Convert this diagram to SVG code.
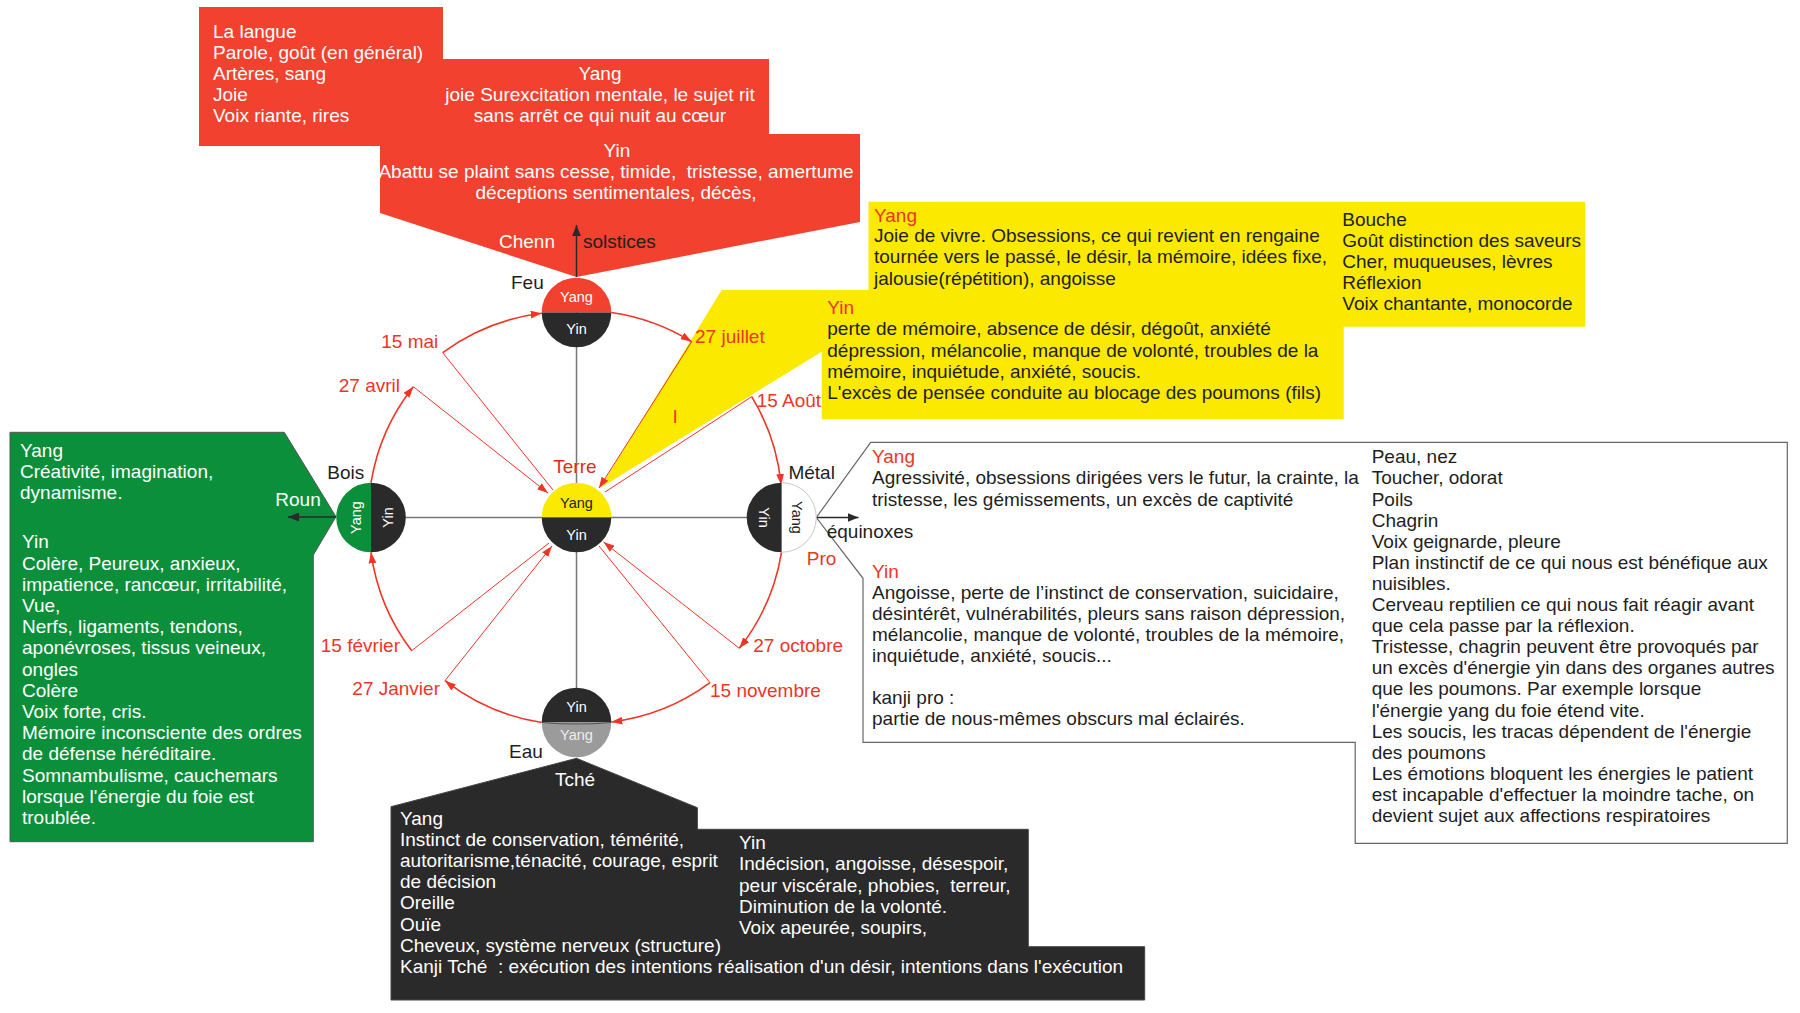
<svg xmlns="http://www.w3.org/2000/svg" width="1800" height="1013" viewBox="0 0 1800 1013">
<style>
.t{font-family:'Liberation Sans',Arial,sans-serif;font-size:19px}
.c{font-family:'Liberation Sans',Arial,sans-serif;font-size:14.5px;text-anchor:middle}
.w{fill:#ffffff}
.k{fill:#1e1e1e}
.r{fill:#ee3526}
.m{text-anchor:middle}
.e{text-anchor:end}
.arc{fill:none;stroke:#ee3526;stroke-width:1.6}
.thin{fill:none;stroke:#ee3526;stroke-width:1}
.axis{stroke:#777;stroke-width:1.5}
</style>
<defs>
<marker id="ra" viewBox="0 0 10 7" refX="10" refY="3.5" markerWidth="11" markerHeight="8" markerUnits="userSpaceOnUse" orient="auto"><path d="M0,0 L10,3.5 L0,7 z" fill="#ee3526"/></marker>
<marker id="ka" viewBox="0 0 10 8" refX="10" refY="4" markerWidth="11" markerHeight="9" markerUnits="userSpaceOnUse" orient="auto"><path d="M0,0 L10,4 L0,8 z" fill="#2a2a2a"/></marker>
</defs>
<rect width="1800" height="1013" fill="#fff"/>

<g id="feu-box">
<path d="M199,7 H443 V59 H769 V134 H860 V222 L576.5,277 L380,213 V146 H199 Z" fill="#f2412e"/>
<text class="t w"><tspan x="213" y="37.5">La langue</tspan><tspan x="213" y="58.6">Parole, goût (en général)</tspan><tspan x="213" y="79.7">Artères, sang</tspan><tspan x="213" y="100.8">Joie</tspan><tspan x="213" y="121.9">Voix riante, rires</tspan></text>
<text class="t w m"><tspan x="600" y="79.5">Yang</tspan><tspan x="600" y="100.6">joie Surexcitation mentale, le sujet rit</tspan><tspan x="600" y="121.7">sans arrêt ce qui nuit au cœur</tspan></text>
<text class="t w m" xml:space="preserve"><tspan x="617" y="157">Yin</tspan><tspan x="616" y="178.1">Abattu se plaint sans cesse, timide,  tristesse, amertume</tspan><tspan x="616" y="199.2">déceptions sentimentales, décès,</tspan></text>
<text class="t w" x="499" y="248">Chenn</text>
<text class="t k" x="583" y="248">solstices</text>
</g>

<g id="terre-box">
<path d="M868.5,201.7 H1585.3 V326.7 H1343.7 V419.3 H821.7 V351.7 L600,488 L721.7,290 H868.5 Z" fill="#fbe900"/>
<text class="t r" x="874" y="221.7">Yang</text>
<text class="t k"><tspan x="874" y="242.3">Joie de vivre. Obsessions, ce qui revient en rengaine</tspan><tspan x="874" y="263.4">tournée vers le passé, le désir, la mémoire, idées fixe,</tspan><tspan x="874" y="284.5">jalousie(répétition), angoisse</tspan></text>
<text class="t k"><tspan x="1342.3" y="226">Bouche</tspan><tspan x="1342.3" y="247.1">Goût distinction des saveurs</tspan><tspan x="1342.3" y="268.2">Cher, muqueuses, lèvres</tspan><tspan x="1342.3" y="289.3">Réflexion</tspan><tspan x="1342.3" y="310.4">Voix chantante, monocorde</tspan></text>
<text class="t r" x="827.3" y="314.3">Yin</text>
<text class="t k"><tspan x="827.3" y="335.4">perte de mémoire, absence de désir, dégoût, anxiété</tspan><tspan x="827.3" y="356.5">dépression, mélancolie, manque de volonté, troubles de la</tspan><tspan x="827.3" y="377.6">mémoire, inquiétude, anxiété, soucis.</tspan><tspan x="827.3" y="398.7">L'excès de pensée conduite au blocage des poumons (fils)</tspan></text>
<text class="t r" x="673" y="422.7">l</text>
</g>

<g id="bois-box">
<path d="M10,432.3 H284.3 L336,516.7 L313.3,555 V841.7 H10 Z" fill="#0b8f3a" stroke="#555" stroke-width="1"/>
<text class="t w"><tspan x="20" y="456.7">Yang</tspan><tspan x="20" y="477.9">Créativité, imagination,</tspan><tspan x="20" y="499.1">dynamisme.</tspan></text>
<text class="t w"><tspan x="22" y="548.3">Yin</tspan><tspan x="22" y="569.5">Colère, Peureux, anxieux,</tspan><tspan x="22" y="590.7">impatience, rancœur, irritabilité,</tspan><tspan x="22" y="611.9">Vue,</tspan><tspan x="22" y="633.1">Nerfs, ligaments, tendons,</tspan><tspan x="22" y="654.3">aponévroses, tissus veineux,</tspan><tspan x="22" y="675.5">ongles</tspan><tspan x="22" y="696.7">Colère</tspan><tspan x="22" y="717.9">Voix forte, cris.</tspan><tspan x="22" y="739.1">Mémoire inconsciente des ordres</tspan><tspan x="22" y="760.3">de défense héréditaire.</tspan><tspan x="22" y="781.5">Somnambulisme, cauchemars</tspan><tspan x="22" y="802.7">lorsque l'énergie du foie est</tspan><tspan x="22" y="823.9">troublée.</tspan></text>
<text class="t w" x="275.3" y="506">Roun</text>
</g>

<g id="eau-box">
<path d="M391,806.7 L576.5,758.3 L697.4,807.7 V829.3 H1028.3 V946.7 H1144.7 V1000 H391 Z" fill="#2a2a2a" stroke="#444" stroke-width="1"/>
<text class="t w" x="555" y="785.7">Tché</text>
<text class="t w"><tspan x="400" y="825">Yang</tspan><tspan x="400" y="846.1">Instinct de conservation, témérité,</tspan><tspan x="400" y="867.2">autoritarisme,ténacité, courage, esprit</tspan><tspan x="400" y="888.3">de décision</tspan><tspan x="400" y="909.4">Oreille</tspan><tspan x="400" y="930.5">Ouïe</tspan><tspan x="400" y="951.6">Cheveux, système nerveux (structure)</tspan></text>
<text class="t w" x="400" y="972.7" xml:space="preserve">Kanji Tché  : exécution des intentions réalisation d'un désir, intentions dans l'exécution</text>
<text class="t w" xml:space="preserve"><tspan x="739" y="849.3">Yin</tspan><tspan x="739" y="870.4">Indécision, angoisse, désespoir,</tspan><tspan x="739" y="891.5">peur viscérale, phobies,  terreur,</tspan><tspan x="739" y="912.6">Diminution de la volonté.</tspan><tspan x="739" y="933.7">Voix apeurée, soupirs,</tspan></text>
</g>

<g id="metal-box">
<path d="M870.7,442.3 H1787.3 V843.3 H1355.2 V742.3 H863 V578.3 L816.3,517.5 Z" fill="#fff" stroke="#666" stroke-width="1.2"/>
<text class="t r" x="872" y="463.3">Yang</text>
<text class="t k"><tspan x="872" y="484.4">Agressivité, obsessions dirigées vers le futur, la crainte, la</tspan><tspan x="872" y="505.5">tristesse, les gémissements, un excès de captivité</tspan></text>
<text class="t r" x="872" y="577.7">Yin</text>
<text class="t k"><tspan x="872" y="598.8">Angoisse, perte de l’instinct de conservation, suicidaire,</tspan><tspan x="872" y="619.9">désintérêt, vulnérabilités, pleurs sans raison dépression,</tspan><tspan x="872" y="641">mélancolie, manque de volonté, troubles de la mémoire,</tspan><tspan x="872" y="662.1">inquiétude, anxiété, soucis...</tspan><tspan x="872" y="704.3">kanji pro :</tspan><tspan x="872" y="725.4">partie de nous-mêmes obscurs mal éclairés.</tspan></text>
<text class="t k"><tspan x="1371.7" y="463.3">Peau, nez</tspan><tspan x="1371.7" y="484.4">Toucher, odorat</tspan><tspan x="1371.7" y="505.5">Poils</tspan><tspan x="1371.7" y="526.6">Chagrin</tspan><tspan x="1371.7" y="547.7">Voix geignarde, pleure</tspan><tspan x="1371.7" y="568.8">Plan instinctif de ce qui nous est bénéfique aux</tspan><tspan x="1371.7" y="589.9">nuisibles.</tspan><tspan x="1371.7" y="611">Cerveau reptilien ce qui nous fait réagir avant</tspan><tspan x="1371.7" y="632.1">que cela passe par la réflexion.</tspan><tspan x="1371.7" y="653.2">Tristesse, chagrin peuvent être provoqués par</tspan><tspan x="1371.7" y="674.3">un excès d'énergie yin dans des organes autres</tspan><tspan x="1371.7" y="695.4">que les poumons. Par exemple lorsque</tspan><tspan x="1371.7" y="716.5">l'énergie yang du foie étend vite.</tspan><tspan x="1371.7" y="737.6">Les soucis, les tracas dépendent de l'énergie</tspan><tspan x="1371.7" y="758.7">des poumons</tspan><tspan x="1371.7" y="779.8">Les émotions bloquent les énergies le patient</tspan><tspan x="1371.7" y="800.9">est incapable d'effectuer la moindre tache, on</tspan><tspan x="1371.7" y="822">devient sujet aux affections respiratoires</tspan></text>
<text class="t k" x="826.7" y="538.3">équinoxes</text>
<text class="t r" x="806.8" y="565">Pro</text>
</g>

<g id="connectors">
<line class="axis" x1="371" y1="517.5" x2="781.5" y2="517.5"/>
<line class="axis" x1="576.5" y1="312.5" x2="576.5" y2="722.5"/>
<line x1="576.5" y1="277" x2="576.5" y2="225" stroke="#2a2a2a" stroke-width="1.5" marker-end="url(#ka)"/>
<line x1="336" y1="517" x2="288" y2="517" stroke="#2a2a2a" stroke-width="1.5" marker-end="url(#ka)"/>
<line x1="816.3" y1="517.5" x2="858.5" y2="517.5" stroke="#2a2a2a" stroke-width="1.5" marker-end="url(#ka)"/>
<path class="arc" d="M371,482.7 A209,209 0 0,1 413.3,386.7" marker-end="url(#ra)"/>
<path class="arc" d="M442.7,352.7 A209,209 0 0,1 541.7,313.3" marker-end="url(#ra)"/>
<path class="arc" d="M611.3,312.5 A209,209 0 0,1 691.7,341.7" marker-end="url(#ra)"/>
<path class="arc" d="M751.7,396.7 A209,209 0 0,1 781.2,485" marker-end="url(#ra)"/>
<path class="arc" d="M781.5,552.3 A209,209 0 0,1 739.3,648.3" marker-end="url(#ra)"/>
<path class="arc" d="M710,682.7 A209,209 0 0,1 611.3,722" marker-end="url(#ra)"/>
<path class="arc" d="M541.7,722.5 A209,209 0 0,1 445,680.7" marker-end="url(#ra)"/>
<path class="arc" d="M411.7,650.7 A209,209 0 0,1 371,552.3" marker-end="url(#ra)"/>
<line class="thin" x1="413.3" y1="386.7" x2="548" y2="493" marker-end="url(#ra)"/>
<line class="thin" x1="442.7" y1="352.7" x2="553" y2="490"/>
<line class="thin" x1="691.7" y1="341.7" x2="599" y2="488" marker-end="url(#ra)"/>
<line class="thin" x1="751.7" y1="396.7" x2="605" y2="492"/>
<line class="thin" x1="739.3" y1="648.3" x2="603.5" y2="542" marker-end="url(#ra)"/>
<line class="thin" x1="710" y1="682.7" x2="599" y2="546"/>
<line class="thin" x1="445" y1="680.7" x2="552" y2="546" marker-end="url(#ra)"/>
<line class="thin" x1="411.7" y1="650.7" x2="549" y2="543"/>
</g>

<g id="dates">
<text class="t r e" x="438.3" y="348.3">15 mai</text>
<text class="t r e" x="400" y="391.7">27 avril</text>
<text class="t r" x="695" y="342.7">27 juillet</text>
<text class="t r" x="756.7" y="406.7">15 Août</text>
<text class="t r" x="753.3" y="651.7">27 octobre</text>
<text class="t r" x="710" y="697.3">15 novembre</text>
<text class="t r e" x="440" y="695">27 Janvier</text>
<text class="t r e" x="400" y="651.7">15 février</text>
</g>

<g id="feu" transform="translate(576.5,312.5)">
<path d="M-34.8,0 A34.8,34.8 0 0 1 34.8,0 Z" fill="#f2412e"/>
<path d="M-34.8,0 A34.8,34.8 0 0 0 34.8,0 Z" fill="#2a2a2a"/>
<text class="c w" x="0" y="-11">Yang</text>
<text class="c w" x="0" y="21.5">Yin</text>
</g>
<text class="t k" x="511" y="289">Feu</text>

<g id="terre" transform="translate(576.5,517.5)">
<path d="M-34.8,0 A34.8,34.8 0 0 1 34.8,0 Z" fill="#fbe900"/>
<path d="M-34.8,0 A34.8,34.8 0 0 0 34.8,0 Z" fill="#2a2a2a"/>
<text class="c k" x="0" y="-10">Yang</text>
<text class="c w" x="0" y="22.5">Yin</text>
</g>
<text class="t" x="553.3" y="472.7" fill="#e42a1e">Terre</text>

<g id="bois" transform="translate(371,517.5)">
<path d="M0,-34.8 A34.8,34.8 0 0 0 0,34.8 Z" fill="#0b8f3a"/>
<path d="M0,-34.8 A34.8,34.8 0 0 1 0,34.8 Z" fill="#2a2a2a"/>
<text class="c w" transform="translate(-10.5,0) rotate(-90)">Yang</text>
<text class="c w" transform="translate(21.5,0) rotate(-90)">Yin</text>
</g>
<text class="t k" x="327.3" y="479.3">Bois</text>

<g id="metal" transform="translate(781.5,517.5)">
<path d="M0,-34.8 A34.8,34.8 0 0 1 0,34.8 Z" fill="#fff" stroke="#c8c8c8" stroke-width="1"/>
<path d="M0,-34.8 A34.8,34.8 0 0 0 0,34.8 Z" fill="#2a2a2a"/>
<text class="c w" transform="translate(-22.5,0) rotate(90)">Yin</text>
<text class="c k" transform="translate(10,0) rotate(90)">Yang</text>
</g>
<text class="t k" x="788.4" y="479.3">Métal</text>

<g id="eau" transform="translate(576.5,722.5)">
<path d="M-34.8,0 A34.8,34.8 0 0 1 34.8,0 Z" fill="#2a2a2a"/>
<path d="M-34.8,0 A34.8,34.8 0 0 0 34.8,0 Z" fill="#9b9b9b"/>
<path d="M-34.5,0 Q0,3 34.5,0" fill="none" stroke="#555" stroke-width="1.2"/>
<text class="c w" x="0" y="-11">Yin</text>
<text class="c" x="0" y="17" fill="#eeeeee">Yang</text>
</g>
<text class="t k" x="509" y="758">Eau</text>
</svg>
